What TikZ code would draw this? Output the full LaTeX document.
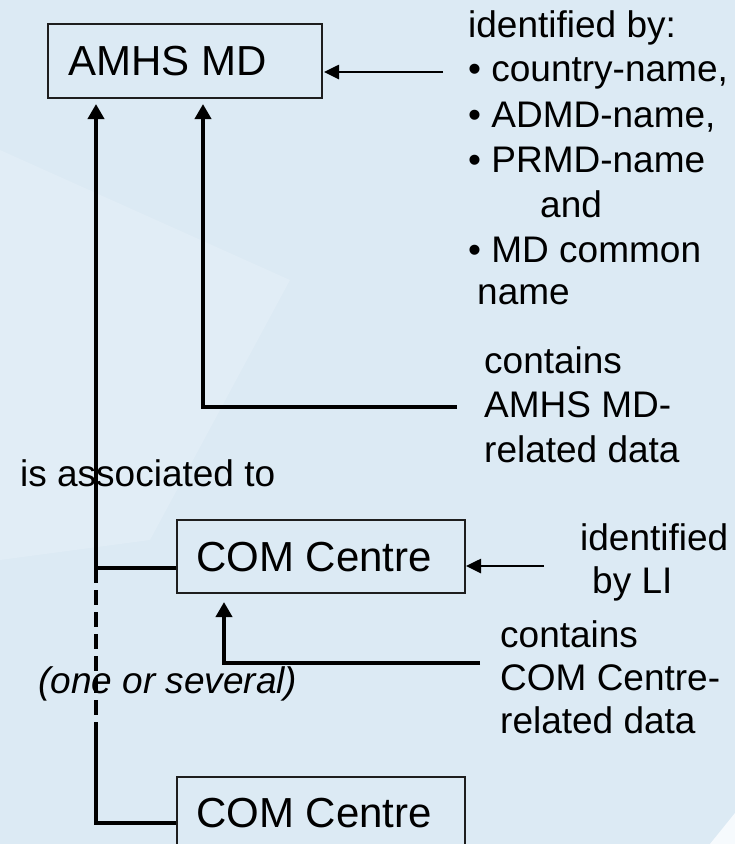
\documentclass[tikz,border=0pt]{standalone}
\usepackage{fontspec}
\setmainfont{Liberation Sans}
\usetikzlibrary{arrows.meta}
\definecolor{bg}{RGB}{220,234,244}
\definecolor{bglight}{RGB}{225,237,246}
\definecolor{bgwhite}{RGB}{246,250,253}
\definecolor{boxline}{RGB}{30,30,30}
\tikzset{
  box/.style={draw=boxline, line width=1.8pt, inner sep=0pt, anchor=north west},
  boxtext/.style={font=\fontsize{42}{48}\selectfont, anchor=base west, inner sep=0pt},
  ann/.style={font=\fontsize{37}{44}\selectfont, anchor=base west, inner sep=0pt},
  conn/.style={line width=4pt, line join=miter},
  thinconn/.style={line width=2.6pt},
  vtip/.style={-{Triangle[length=15pt,width=16pt]}},
  htip/.style={-{Triangle[length=15pt,width=14pt]}},
  dashline/.style={line width=3.5pt, dash pattern=on 15pt off 7pt}
}
\begin{document}
\begin{tikzpicture}[x=1pt,y=-1pt]
\useasboundingbox (0,0) rectangle (735,844);
\fill[bg] (0,0) rectangle (735,844);
\fill[bglight] (0,150) -- (290,280) -- (150,540) -- (0,560) -- cycle;
\fill[bgwhite] (710,844) -- (735,844) -- (735,813) -- cycle;

% boxes
\node[box, minimum width=274pt, minimum height=74pt] (amhs) at (47,23) {};
\node[box, minimum width=288pt, minimum height=73pt] (com1) at (176,519) {};
\node[box, minimum width=288pt, minimum height=73pt] (com2) at (176,776) {};
\node[boxtext] (tAmhs) at (68,75) {AMHS MD};
\node[boxtext] (tCom1) at (196,571) {COM Centre};
\node[boxtext] (tCom2) at (196,827) {COM Centre};

% annotations
\node[ann] (id0) at (468,37) {identified by:};
\node[ann] (id1) at (468,81) {• country-name,};
\node[ann] (id2) at (468,127) {• ADMD-name,};
\node[ann] (id3) at (468,172) {• PRMD-name};
\node[ann] (id4) at (540,217) {and};
\node[ann] (id5) at (468,262) {• MD common};
\node[ann] (id6) at (477,304) {name};
\node[ann] (ca1) at (484,373) {contains};
\node[ann] (ca2) at (484,417) {AMHS MD-};
\node[ann] (ca3) at (484,462) {related data};
\node[ann] (assoc) at (20,486) {is associated to};
\node[ann] (li1) at (580,550) {identified};
\node[ann] (li2) at (592,593) {by LI};
\node[ann] (cc1) at (500,647) {contains};
\node[ann] (cc2) at (500,690) {COM Centre-};
\node[ann] (cc3) at (500,733) {related data};
\node[ann, font=\fontsize{37}{44}\selectfont\itshape] (sev) at (38,693) {(one or several)};

% coordinates
\coordinate (tipA) at (96,104);
\coordinate (j1) at (96,568);
\coordinate (j2) at (96,728);
\coordinate (j3) at (96,823);
\coordinate (tipB) at (203,104);
\coordinate (bendB) at (203,407);
\coordinate (srcB) at (457,407);
\coordinate (tipC) at (224,602);
\coordinate (bendC) at (224,663);
\coordinate (srcC) at (480,663);
\coordinate (srcD) at (443,72);
\coordinate (tipD) at (324,72);
\coordinate (srcE) at (544,566);
\coordinate (tipE) at (466,566);

% connectors
\draw[conn, vtip] (j1) -- (tipA);
\draw[conn] (j1) -- (j1 -| com1.west);
\draw[dashline] (j1) -- (j2);
\draw[conn] (j2) -- (j3) -- (j3 -| com2.west);
\draw[conn, vtip] (srcB) -- (bendB) -- (tipB);
\draw[conn, vtip] (srcC) -- (bendC) -- (tipC);
\draw[thinconn, htip] (srcD) -- (tipD);
\draw[thinconn, htip] (srcE) -- (tipE);
\end{tikzpicture}
\end{document}
